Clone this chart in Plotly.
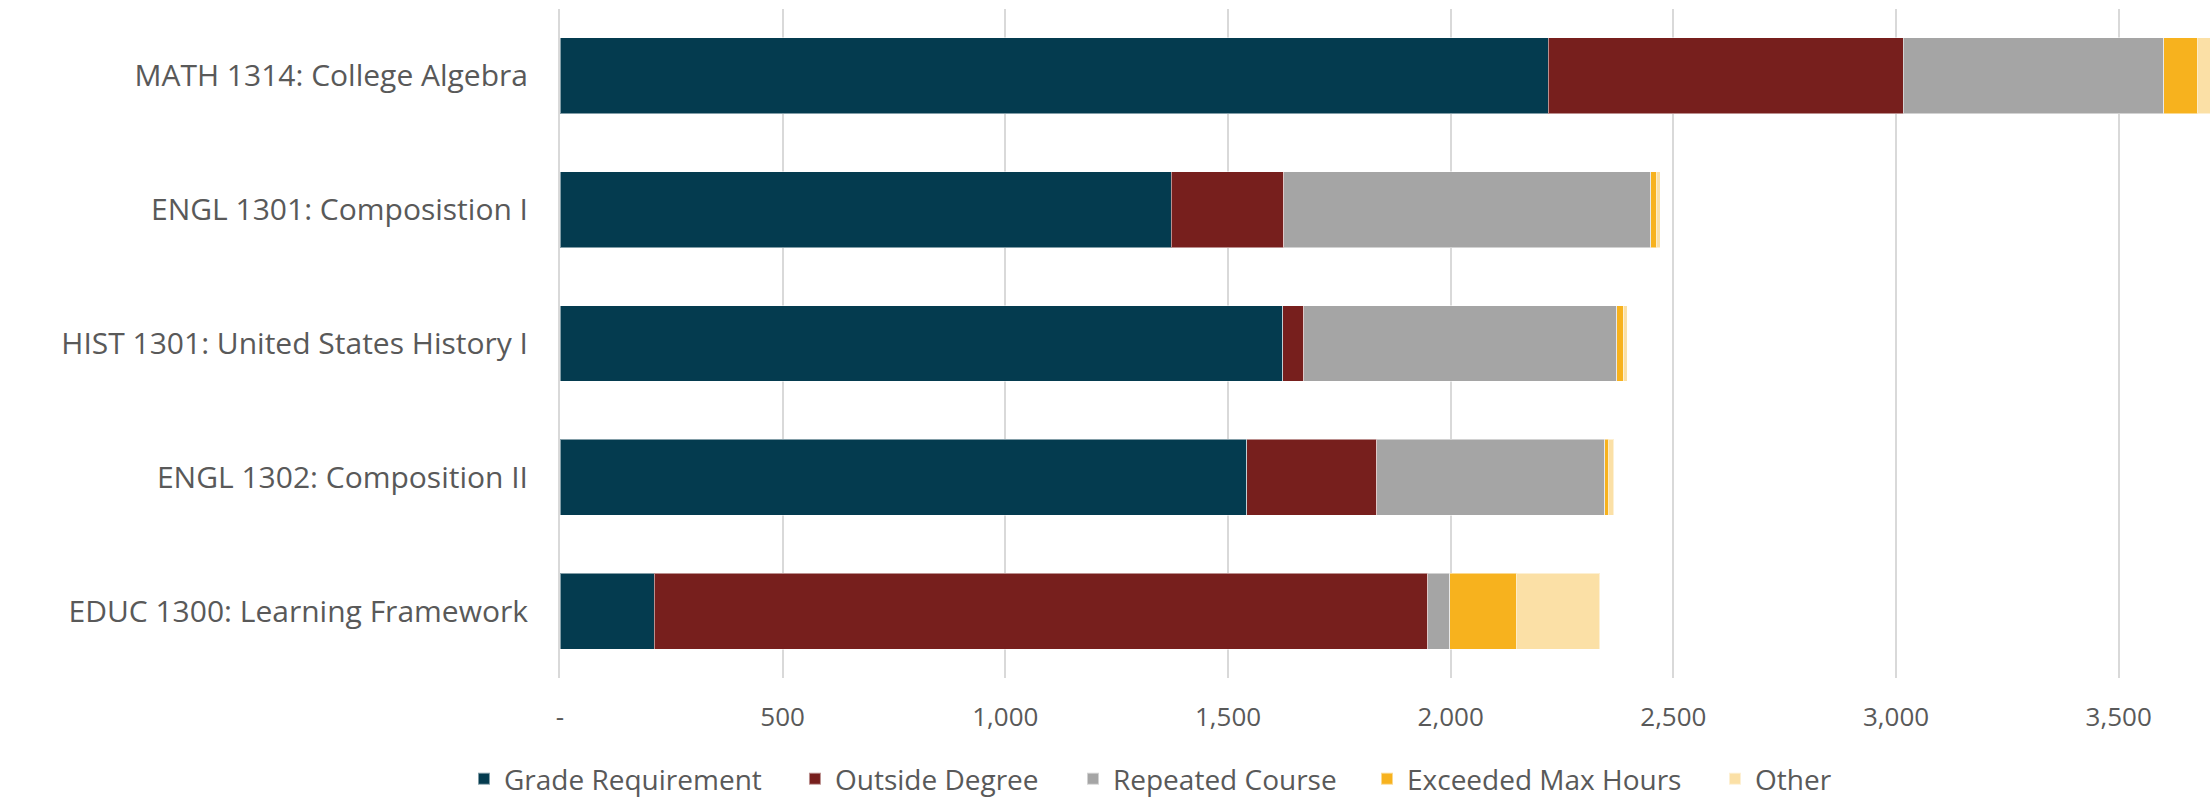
import plotly.graph_objects as go

courses = [
    "MATH 1314: College Algebra",
    "ENGL 1301: Composistion I",
    "HIST 1301: United States History I",
    "ENGL 1302: Composition II",
    "EDUC 1300: Learning Framework",
]
series_names = ["Grade Requirement", "Outside Degree", "Repeated Course", "Exceeded Max Hours", "Other"]
grade_requirement = [2219, 1373, 1623, 1542, 212]
outside_degree = [797, 252, 47, 292, 1737]
repeated_course = [585, 824, 703, 512, 49]
exceeded_max_hours = [77, 14, 14, 9, 150]
other = [27, 7, 9, 11, 187]
tick_values = [0, 500, 1000, 1500, 2000, 2500, 3000, 3500]
tick_labels = ["-", "500", "1,000", "1,500", "2,000", "2,500", "3,000", "3,500"]

colors = ["#043B4F", "#771F1D", "#A5A5A5", "#F7B21E", "#FBE0A6"]
values = [grade_requirement, outside_degree, repeated_course, exceeded_max_hours, other]
legend_x = [-0.0582, 0.1424, 0.3109, 0.4891, 0.70]

font_family = "Open Sans, Noto Sans, sans-serif"
fig = go.Figure()
legend_layouts = {}
for i, (name, vals, col) in enumerate(zip(series_names, values, colors)):
    lname = "legend" if i == 0 else f"legend{i+1}"
    fig.add_trace(go.Bar(
        y=courses, x=vals, name=name, orientation="h", legend=lname,
        marker=dict(color=col, line=dict(color="rgba(255,255,255,0.5)", width=1)),
    ))
    legend_layouts[lname] = dict(
        orientation="h", x=legend_x[i], xanchor="left", y=-0.151, yanchor="middle",
        font=dict(size=28, color="#595959", family=font_family),
        itemsizing="constant", bgcolor="rgba(0,0,0,0)",
    )

fig.update_layout(
    barmode="stack",
    bargap=0.433,
    width=2210, height=798,
    margin=dict(l=560, r=0, t=9, b=120, autoexpand=False),
    paper_bgcolor="white", plot_bgcolor="white",
    font=dict(family=font_family, color="#595959", size=26),
    showlegend=True,
    **legend_layouts,
)
fig.update_xaxes(
    range=[0, 3705],
    tickvals=tick_values, ticktext=tick_labels,
    showgrid=True, gridcolor="#D9D9D9", gridwidth=2,
    zeroline=False, showline=False,
    tickfont=dict(size=26, color="#595959"),
    ticks="", ticklabelstandoff=21,
)
fig.update_yaxes(
    categoryorder="array", categoryarray=courses[::-1],
    showgrid=False, zeroline=False, showline=True, linecolor="#D9D9D9", linewidth=2,
    ticks="", tickfont=dict(size=30, color="#595959"), ticklabelstandoff=24,
)
fig.write_html(
    "out.html",
    config={"displayModeBar": False},
    post_script="document.body.style.margin='0';document.body.style.overflow='hidden';",
)
